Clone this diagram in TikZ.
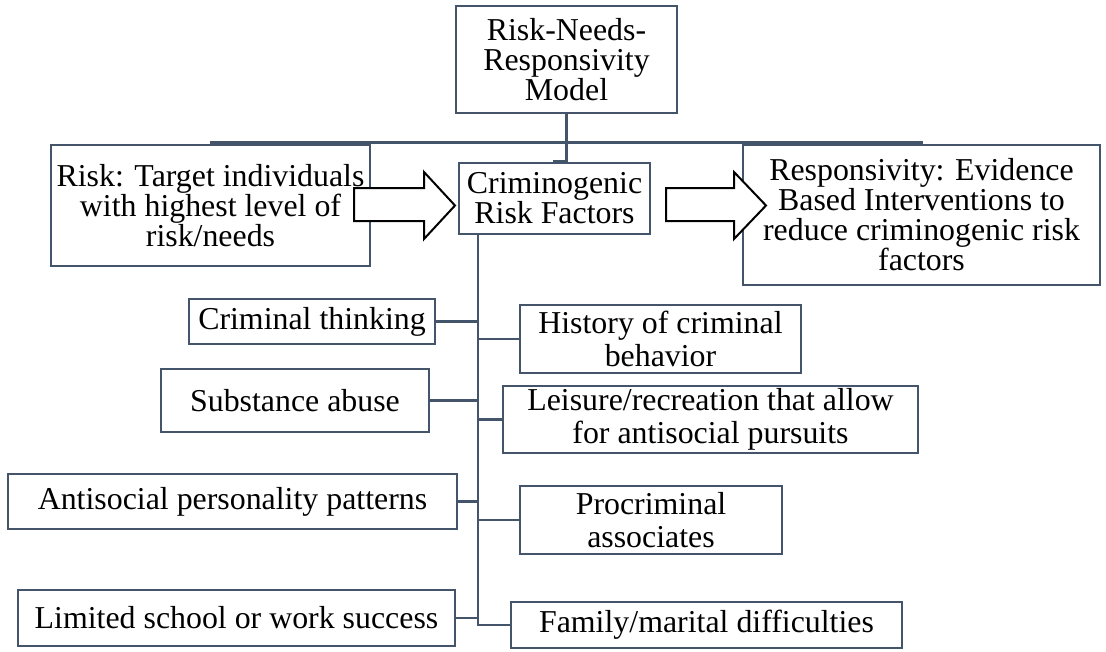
\documentclass[tikz,border=0pt]{standalone}
\usepackage{fontspec}
\setmainfont{Liberation Serif}
\definecolor{slate}{RGB}{68,84,106}
\tikzset{
  box/.style={draw=slate, line width=1.9pt, fill=white, inner sep=0pt, align=center,
              text=black, font=\fontsize{23.9}{24.75}\selectfont},
  tightbox/.style={box, font=\fontsize{23.9}{22.5}\selectfont},
  bx/.style 2 args={minimum width=#1*0.75pt, minimum height=#2*0.75pt},
  conn/.style={draw=slate, line width=1.9pt},
  blockarrow/.style={draw=black, line width=1.5pt, fill=white, line join=miter}
}
\begin{document}
\begin{tikzpicture}[x=0.75pt,y=-0.75pt]
\useasboundingbox (0,0) rectangle (1106,651);
% bus line
\coordinate (busL) at (210,142.5);
\coordinate (busR) at (923,142.5);
\draw[conn] (busL) -- (busR);
% top level
\node[tightbox, bx={221}{107}] (model) at (566.5,59.5) {Risk-Needs-\\Responsivity\\Model};
\node[tightbox, bx={319}{121}] (risk) at (210.5,205.5) {Risk: Target individuals\\with highest level of\\risk/needs};
\node[tightbox, bx={191}{71}] (crim) at (554.5,198.5) {Criminogenic\\Risk Factors};
\node[tightbox, bx={357}{140}] (resp) at (921.5,215) {Responsivity: Evidence\\Based Interventions to\\reduce criminogenic risk\\factors};
\coordinate (bend) at (566.5,161);
\draw[conn] (model.south) -- (bend) -| (crim.north);
% left factors
\node[box, bx={246}{45}] (ct) at (312,321.5) {Criminal thinking};
\node[box, bx={268}{63}] (sa) at (295,400.5) {Substance abuse};
\node[box, bx={449}{55}] (asp) at (232.5,501.5) {Antisocial personality patterns};
\node[box, bx={437}{56}] (lim) at (236.5,618) {Limited school or work success};
% right factors
\node[box, bx={281}{68}] (hist) at (660.5,339) {History of criminal\\behavior};
\node[box, bx={415}{67}] (leis) at (710.5,419.5) {Leisure/recreation that allow\\for antisocial pursuits};
\node[box, bx={262}{68}] (proc) at (651,520) {Procriminal\\associates};
\node[box, bx={391}{46}] (fam) at (706.5,625) {Family/marital difficulties};
% trunk
\coordinate (tk) at (478,0);
\draw[conn] (crim.south -| tk) |- (fam.west);
\foreach \n in {ct,sa,asp,lim} \draw[conn] (\n.east) -- (\n.east -| tk);
\foreach \n in {hist,leis,proc} \draw[conn] (\n.west -| tk) -- (\n.west);
% block arrows
\draw[blockarrow] (354,188) -- (424,188) -- (424,172) -- (455,205.5) -- (424,239) -- (424,221) -- (354,221) -- cycle;
\draw[blockarrow] (666,188) -- (734,188) -- (734,172) -- (766,205.5) -- (734,239) -- (734,221) -- (666,221) -- cycle;
\end{tikzpicture}
\end{document}
